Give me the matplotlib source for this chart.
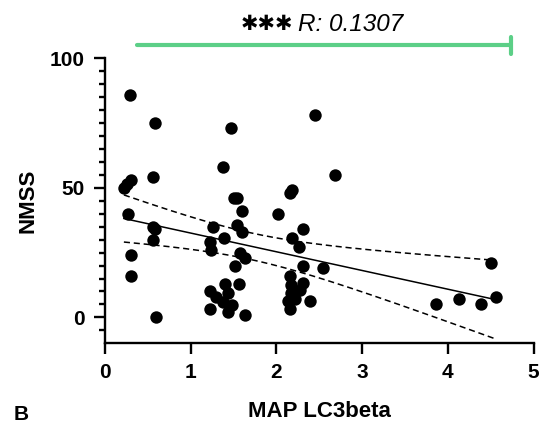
import numpy as np
import matplotlib.pyplot as plt

# MAP LC3beta vs NMSS values
map_lc3b = [0.22, 0.26, 0.30, 0.29, 0.27, 0.30, 0.30,
            0.56, 0.58, 0.56, 0.58, 0.56, 0.60,
            1.23, 1.24, 1.26, 1.38, 1.39, 1.47, 1.50, 1.54, 1.54, 1.60, 1.60,
            1.58, 1.63, 1.52, 1.40, 1.56, 1.23, 1.30, 1.44, 1.38, 1.48, 1.23,
            1.44, 1.63,
            2.02, 2.18, 2.16, 2.31, 2.18, 2.26, 2.31, 2.54, 2.16, 2.17, 2.31,
            2.17, 2.28, 2.22, 2.39, 2.14, 2.16, 2.45, 2.68,
            3.86, 4.13, 4.39, 4.56, 4.50]
nmss = [50, 51.5, 53, 86, 40, 24, 16,
        54, 75, 35, 34, 30, 0,
        29, 26, 35, 58, 30.5, 73, 46, 46, 35.5, 33, 41,
        25, 23, 20, 13, 13, 10, 8, 9.5, 6, 4.6, 3.3,
        2, 0.8,
        40, 49, 48, 34, 30.5, 27, 20, 19, 16, 12.7, 13.3,
        9.5, 10.7, 7.2, 6.5, 6.2, 3.3, 78, 55,
        5, 7, 5, 8, 21]

stat_label = 'R: 0.1307'
stars = '\u2731\u2731\u2731'
t_crit = 2.001  # t(0.975, df=59)

x = np.array(map_lc3b)
y = np.array(nmss)

# linear fit and 95% confidence band of the mean
slope, intercept = np.polyfit(x, y, 1)
n = len(x)
resid = y - (slope * x + intercept)
s = np.sqrt(np.sum(resid ** 2) / (n - 2))
sxx = np.sum((x - x.mean()) ** 2)
xf = np.linspace(x.min(), x.max(), 200)
yf = slope * xf + intercept
half = t_crit * s * np.sqrt(1 / n + (xf - x.mean()) ** 2 / sxx)

plt.rcParams['font.family'] = ['Liberation Sans', 'DejaVu Sans']

fig = plt.figure(figsize=(5.49, 4.25), dpi=100)
ax = fig.add_axes([0.1913, 0.1922, 0.7805, 0.6706])

ax.scatter(x, y, s=80, color='black', zorder=3, linewidths=0)
ax.plot(xf, yf, color='black', lw=1.1)
ax.plot(xf, yf + half, color='black', lw=1.1, ls=(0, (4, 2.5)))
ax.plot(xf, yf - half, color='black', lw=1.1, ls=(0, (4, 2.5)))

ax.set_xlim(0, 5)
ax.set_ylim(-10, 100)
ax.set_xticks([0, 1, 2, 3, 4, 5])
ax.set_yticks([0, 50, 100])
ax.set_yticks(np.arange(-5, 100, 5), minor=True)

for side in ['top', 'right']:
    ax.spines[side].set_visible(False)
for side in ['left', 'bottom']:
    ax.spines[side].set_linewidth(1.7)
ax.tick_params(axis='both', which='major', width=1.7, length=8,
               labelsize=15, pad=6.5)
ax.tick_params(axis='y', which='minor', width=1.7, length=4.5)
for lab in ax.get_xticklabels() + ax.get_yticklabels():
    lab.set_fontweight('bold')

ax.set_xlabel('MAP LC3beta', fontsize=16, fontweight='bold', labelpad=13)
ax.set_ylabel('NMSS', fontsize=16, fontweight='bold', labelpad=8)
fig.text(0.0255, 0.012, 'B', fontsize=15, fontweight='bold')

# significance bracket
ax.plot([0.37, 4.74], [105, 105], color='#5ccf87', lw=3,
        clip_on=False, solid_capstyle='round')
ax.plot([4.74, 4.74], [101.6, 108.4], color='#5ccf87', lw=3,
        clip_on=False, solid_capstyle='round')
ax.text(2.19, 113.2, stars, fontsize=15, ha='right', va='center',
        family='DejaVu Sans', fontweight='bold', clip_on=False)
ax.text(2.25, 113.2, stat_label, fontsize=17.5, ha='left', va='center',
        style='italic', clip_on=False)

fig.savefig('out.png', dpi=100)
